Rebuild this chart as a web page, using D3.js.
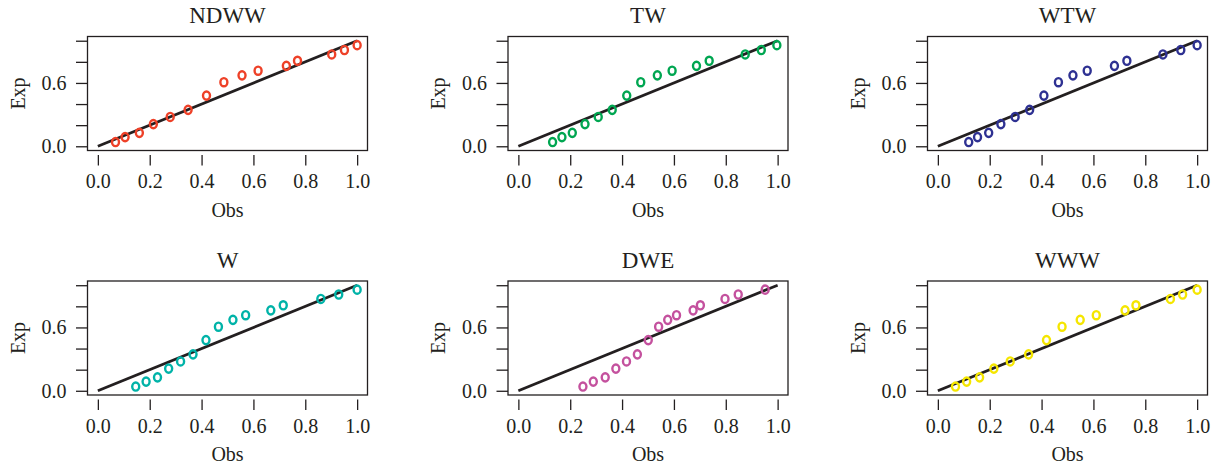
<!DOCTYPE html>
<html>
<head>
<meta charset="utf-8">
<script src="https://cdn.jsdelivr.net/npm/d3@7"></script>
<style>
  html, body { margin: 0; padding: 0; background: #ffffff; }
  svg { display: block; }
  text { font-family: "Liberation Serif", "Times New Roman", serif; fill: #231f20; }
</style>
</head>
<body>
<script>
// Expected probabilities (shared by every panel)
const expected = [0.040, 0.087, 0.127, 0.210, 0.278, 0.345, 0.480, 0.607, 0.672, 0.716, 0.762, 0.810, 0.870, 0.912, 0.958];

// Observed probabilities, one series per model
const obsNDWW = [0.068, 0.105, 0.160, 0.214, 0.279, 0.348, 0.419, 0.486, 0.556, 0.618, 0.727, 0.770, 0.902, 0.951, 1.000];
const obsTW   = [0.132, 0.168, 0.208, 0.257, 0.308, 0.362, 0.418, 0.472, 0.536, 0.593, 0.687, 0.736, 0.875, 0.937, 0.997];
const obsWTW  = [0.119, 0.153, 0.196, 0.243, 0.298, 0.354, 0.409, 0.465, 0.521, 0.576, 0.681, 0.729, 0.868, 0.937, 1.000];
const obsW    = [0.146, 0.186, 0.230, 0.273, 0.319, 0.367, 0.417, 0.465, 0.521, 0.570, 0.667, 0.715, 0.860, 0.929, 1.000];
const obsDWE  = [0.249, 0.289, 0.335, 0.376, 0.417, 0.459, 0.501, 0.541, 0.576, 0.610, 0.674, 0.702, 0.797, 0.848, 0.952];
const obsWWW  = [0.068, 0.111, 0.161, 0.216, 0.279, 0.350, 0.419, 0.479, 0.549, 0.611, 0.722, 0.764, 0.897, 0.944, 1.000];

const panelTitles = ["NDWW", "TW", "WTW", "W", "DWE", "WWW"];
const panelObs = [obsNDWW, obsTW, obsWTW, obsW, obsDWE, obsWWW];
const panelColors = ["#ee4128", "#00a651", "#2e3192", "#00b3a8", "#c4519e", "#f5e600"];

// Axis ticks and labels
const xTicks = [0, 0.2, 0.4, 0.6, 0.8, 1.0];
const yTicks = [0, 0.2, 0.4, 0.6, 0.8, 1.0];
const yLabelled = [0, 0.6];
const xTitle = "Obs";
const yTitle = "Exp";

// Reference line y = x
const refLine = [[0, 0], [1, 1]];

const W = 1214, H = 466;
const svg = d3.select("body").append("svg").attr("width", W).attr("height", H);

// Layout of the 2 x 3 grid of plot boxes
const colLeft = [87.5, 508, 927.5];
const rowTop = [36.5, 281];
const boxW = 280, boxH = 114;
const fs = 20;       // axis text
const fsMain = 23;   // panel titles
const ink = "#231f20";

panelTitles.forEach((title, i) => {
  const col = i % 3, row = Math.floor(i / 3);
  const L = colLeft[col], T = rowTop[row];
  const R = L + boxW, B = T + boxH;

  // 4% padding on each side of [0, 1]
  const x = d3.scaleLinear().domain([-0.04, 1.04]).range([L, R]);
  const y = d3.scaleLinear().domain([-0.04, 1.04]).range([B, T]);

  const g = svg.append("g");

  // Plot box
  g.append("rect")
    .attr("x", L).attr("y", T).attr("width", boxW).attr("height", boxH)
    .attr("fill", "none").attr("stroke", ink).attr("stroke-width", 1.3);

  // x axis (ticks only, slightly below the box)
  const xAxis = g.append("g")
    .attr("transform", `translate(0,${B + 4.5})`)
    .call(d3.axisBottom(x).tickValues(xTicks).tickSize(10.5).tickSizeOuter(0)
      .tickPadding(8.5).tickFormat(d3.format(".1f")));
  xAxis.select(".domain").remove();
  xAxis.selectAll(".tick line").attr("stroke", ink).attr("stroke-width", 1.3);
  xAxis.selectAll(".tick text").attr("font-size", fs).attr("fill", ink)
    .attr("font-family", "Liberation Serif, serif");

  // y axis (ticks at every 0.2, labels only where they fit)
  const yAxis = g.append("g")
    .attr("transform", `translate(${L},0)`)
    .call(d3.axisLeft(y).tickValues(yTicks).tickSize(11.5).tickSizeOuter(0)
      .tickPadding(9.5)
      .tickFormat(d => yLabelled.some(v => Math.abs(v - d) < 1e-9) ? d3.format(".1f")(d) : ""));
  yAxis.select(".domain").remove();
  yAxis.selectAll(".tick line").attr("stroke", ink).attr("stroke-width", 1.3);
  yAxis.selectAll(".tick text").attr("font-size", fs).attr("fill", ink)
    .attr("font-family", "Liberation Serif, serif");

  // Titles
  g.append("text")
    .attr("x", (L + R) / 2).attr("y", T - 13.5)
    .attr("text-anchor", "middle").attr("font-size", fsMain)
    .text(title);
  g.append("text")
    .attr("x", (L + R) / 2).attr("y", B + 66)
    .attr("text-anchor", "middle").attr("font-size", fs)
    .text(xTitle);
  g.append("text")
    .attr("transform", `translate(${L - 63},${(T + B) / 2}) rotate(-90)`)
    .attr("text-anchor", "middle").attr("font-size", fs)
    .text(yTitle);

  // Reference diagonal
  g.append("path")
    .datum(refLine)
    .attr("d", d3.line().x(d => x(d[0])).y(d => y(d[1])))
    .attr("fill", "none").attr("stroke", ink).attr("stroke-width", 2.8);

  // Observed vs expected points
  const pts = panelObs[i].map((o, k) => ({ o, e: expected[k] }));
  g.selectAll("ellipse.pt").data(pts).join("ellipse")
    .attr("class", "pt")
    .attr("cx", d => x(d.o)).attr("cy", d => y(d.e))
    .attr("rx", 3.5).attr("ry", 4.1)
    .attr("fill", "none")
    .attr("stroke", panelColors[i])
    .attr("stroke-width", 2.4);
});
</script>
</body>
</html>
